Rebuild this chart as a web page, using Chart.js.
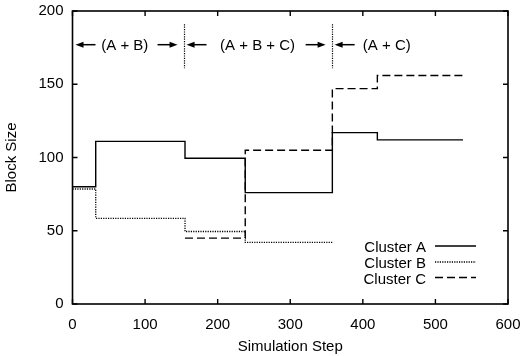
<!DOCTYPE html>
<html>
<head>
<meta charset="utf-8">
<script src="https://cdn.jsdelivr.net/npm/chart.js@4.4.1/dist/chart.umd.min.js"></script>
<style>
  html, body { margin: 0; padding: 0; background: #fff; }
  #chart { display: block; }
</style>
</head>
<body>
<canvas id="chart" width="523" height="356"></canvas>
<script>
/* ─── Data ───────────────────────────────────────────────────── */
// each series: step start positions + level held from that step on
const clusterAX = [0, 32, 155, 238, 358, 420, 538];
const clusterAY = [80, 111, 99.5, 76, 117, 112, 112];
const clusterBX = [0, 32, 155, 238, 358];
const clusterBY = [78.5, 58.5, 49.5, 42, 42];
const clusterCX = [155, 238, 358, 420, 538];
const clusterCY = [45, 105, 147, 156, 156];

const seriesNames = ['Cluster A', 'Cluster B', 'Cluster C'];
const xTicks = [0, 100, 200, 300, 400, 500, 600];
const yTicks = [0, 50, 100, 150, 200];

// phases of the run, marked above the curves
const phaseStarts = [0, 153, 357];
const phaseLabels = ['(A + B)', '(A + B + C)', '(A + C)'];
const phaseLabelX = [72, 255, 433];

/* ─── Styles ─────────────────────────────────────────────────── */
const FONT = "'Liberation Sans', Arial, Helvetica, sans-serif";
const FONT_SIZE = 15;
const DASHES = [[], [1.2, 1.2], [8, 4]];
const WIDTHS = [1.4, 1.3, 1.4];

Chart.defaults.font.family = FONT;
Chart.defaults.font.size = FONT_SIZE;
Chart.defaults.color = '#000';

function toPoints(xs, ys) {
  return xs.map((x, i) => ({ x, y: ys[i] }));
}

// labels may hang over the plot edge; don't let them shrink the plot
function noLabelPadding(s) {
  s.paddingLeft = s.paddingRight = s.paddingTop = s.paddingBottom = 0;
}

/* ─── Frame, ticks, phase markers, legend ────────────────────── */
const framePlugin = {
  id: 'frame',
  afterDatasetsDraw(chart) {
    const { ctx, chartArea: a, scales } = chart;
    const xs = scales.x, ys = scales.y;
    ctx.save();
    ctx.strokeStyle = '#000';
    ctx.fillStyle = '#000';

    // inward ticks on all four sides
    ctx.lineWidth = 1.4;
    ctx.setLineDash([]);
    ctx.beginPath();
    xTicks.forEach(v => {
      const px = xs.getPixelForValue(v);
      ctx.moveTo(px, a.bottom); ctx.lineTo(px, a.bottom - 5);
      ctx.moveTo(px, a.top);    ctx.lineTo(px, a.top + 5);
    });
    yTicks.forEach(v => {
      const py = ys.getPixelForValue(v);
      ctx.moveTo(a.left, py);  ctx.lineTo(a.left + 5, py);
      ctx.moveTo(a.right, py); ctx.lineTo(a.right - 5, py);
    });
    ctx.stroke();

    // box
    ctx.lineWidth = 1.6;
    ctx.strokeRect(a.left, a.top, a.right - a.left, a.bottom - a.top);

    // phase boundaries (dotted)
    ctx.lineWidth = 1.2;
    ctx.setLineDash([1.2, 1.2]);
    const yTop = ys.getPixelForValue(191);
    const yBot = ys.getPixelForValue(161);
    phaseStarts.slice(1).forEach(v => {
      const px = Math.round(xs.getPixelForValue(v)) + 0.5;
      ctx.beginPath();
      ctx.moveTo(px, yTop); ctx.lineTo(px, yBot);
      ctx.stroke();
    });
    ctx.setLineDash([]);

    // arrows + labels
    const yArrow = ys.getPixelForValue(177);
    const arrow = (x0, x1) => { // tail x0 -> head x1
      const dir = Math.sign(x1 - x0);
      ctx.lineWidth = 1.5;
      ctx.beginPath();
      ctx.moveTo(x0, yArrow); ctx.lineTo(x1 - dir * 6, yArrow);
      ctx.stroke();
      ctx.beginPath();
      ctx.moveTo(x1, yArrow);
      ctx.lineTo(x1 - dir * 8, yArrow - 3);
      ctx.lineTo(x1 - dir * 8, yArrow + 3);
      ctx.closePath();
      ctx.fill();
    };
    ctx.font = `${FONT_SIZE}px ${FONT}`;
    ctx.textAlign = 'center';
    ctx.textBaseline = 'middle';
    phaseLabels.forEach((label, i) => {
      const start = xs.getPixelForValue(phaseStarts[i]);
      arrow(start + 23, start + 3);
      if (i < phaseStarts.length - 1) {
        const end = xs.getPixelForValue(phaseStarts[i + 1]);
        arrow(end - 26, end - 6);
      }
      ctx.fillText(label, xs.getPixelForValue(phaseLabelX[i]), yArrow + 1);
    });

    // legend, bottom right inside the plot
    const rowsY = [a.bottom - 58, a.bottom - 42, a.bottom - 26.5];
    ctx.textAlign = 'right';
    seriesNames.forEach((name, i) => {
      ctx.fillText(name, a.right - 82, rowsY[i] + 2);
      ctx.lineWidth = WIDTHS[i];
      ctx.setLineDash(DASHES[i]);
      ctx.beginPath();
      ctx.moveTo(a.right - 73, rowsY[i]);
      ctx.lineTo(a.right - 32, rowsY[i]);
      ctx.stroke();
    });
    ctx.restore();
  }
};

/* ─── Chart ──────────────────────────────────────────────────── */
const seriesX = [clusterAX, clusterBX, clusterCX];
const seriesY = [clusterAY, clusterBY, clusterCY];

new Chart(document.getElementById('chart'), {
  type: 'line',
  data: {
    datasets: seriesNames.map((name, i) => ({
      label: name,
      data: toPoints(seriesX[i], seriesY[i]),
      stepped: 'before',
      borderColor: '#000',
      borderWidth: WIDTHS[i],
      borderDash: DASHES[i],
      pointRadius: 0,
      fill: false,
    })),
  },
  options: {
    responsive: false,
    animation: false,
    devicePixelRatio: 1,
    layout: { padding: { top: 11, right: 15, left: 0, bottom: 0 } },
    plugins: {
      legend: { display: false },
      tooltip: { enabled: false },
    },
    scales: {
      x: {
        type: 'linear',
        min: 0,
        max: 600,
        afterFit: s => { s.height = 52; noLabelPadding(s); },
        afterBuildTicks: s => { s.ticks = xTicks.map(v => ({ value: v })); },
        grid: { display: false, drawTicks: false },
        border: { display: false },
        ticks: { padding: 12, maxRotation: 0, color: '#000' },
        title: { display: true, text: 'Simulation Step', padding: { top: 0, bottom: 0 }, color: '#000' },
      },
      y: {
        type: 'linear',
        min: 0,
        max: 200,
        afterFit: s => { s.width = 72.5; noLabelPadding(s); },
        afterBuildTicks: s => { s.ticks = yTicks.map(v => ({ value: v })); },
        grid: { display: false, drawTicks: false },
        border: { display: false },
        ticks: { padding: 9, color: '#000' },
        title: { display: true, text: 'Block Size', padding: { top: 3, bottom: 0 }, color: '#000' },
      },
    },
  },
  plugins: [framePlugin],
});
</script>
</body>
</html>
